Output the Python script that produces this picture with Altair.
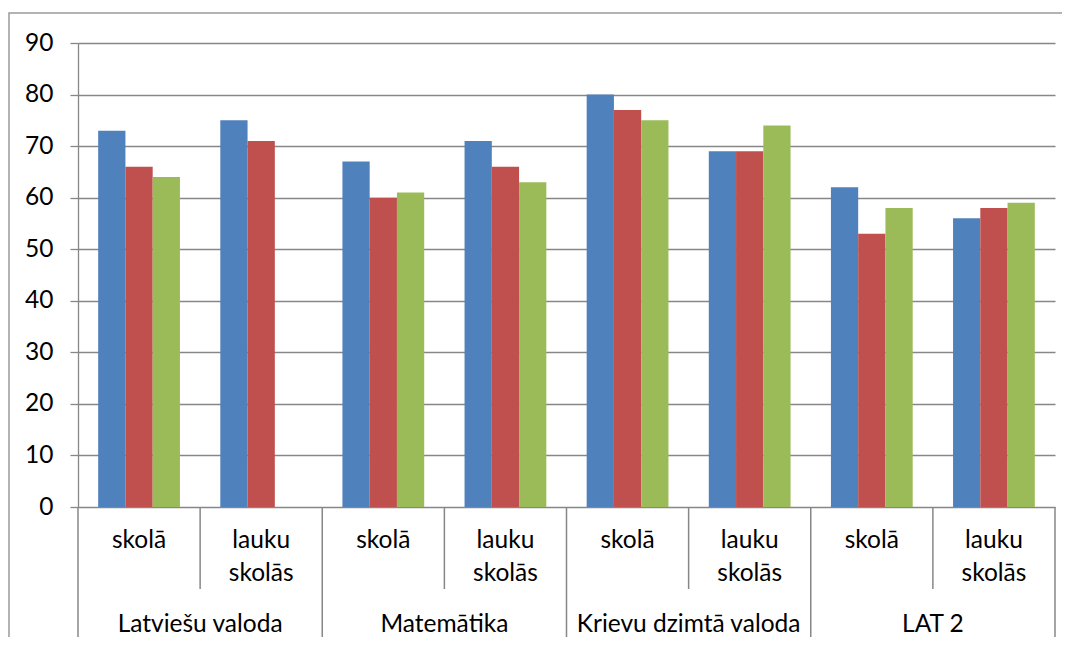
import altair as alt
import pandas as pd

subjects = ["Latviešu valoda", "Matemātika", "Krievu dzimtā valoda", "LAT 2"]
school_types = ["skolā", "lauku skolās"]
type_lines = {"skolā": ["skolā"], "lauku skolās": ["lauku", "skolās"]}
series = ["1. sērija", "2. sērija", "3. sērija"]
colors = ["#4F81BD", "#C0504D", "#9BBB59"]

s1 = [73, 75, 67, 71, 80, 69, 62, 56]
s2 = [66, 71, 60, 66, 77, 69, 53, 58]
s3 = [64, None, 61, 63, 75, 74, 58, 59]
y_ticks = [0, 10, 20, 30, 40, 50, 60, 70, 80, 90]

cats = [f"{s} | {t}" for s in subjects for t in school_types]

rows = []
for name, vals in zip(series, [s1, s2, s3]):
    for c, v in zip(cats, vals):
        if v is not None:
            rows.append({"cat": c, "series": name, "value": v})
bars_df = pd.DataFrame(rows)

lab_rows = []
for s in subjects:
    for t in school_types:
        lab_rows.append({"cat": f"{s} | {t}", "subject": s, "type": t,
                         "lines": type_lines[t], "inner": t != "skolā"})
lab_df = pd.DataFrame(lab_rows)
subj_df = lab_df[lab_df["type"] == "skolā"].copy()
last_df = lab_df.tail(1).copy()

W, H = 977, 464
FONT = "Lato"
FS = 24.5
GRID = "#878787"

xscale = alt.Scale(domain=cats, paddingInner=0, paddingOuter=0)

frame = alt.Chart(pd.DataFrame({"a": [0]})).mark_rect(
    fill="white", fillOpacity=0, stroke="#9a9a9a", strokeWidth=1.5
).encode(x=alt.value(-69), x2=alt.value(W + 40), y=alt.value(-30), y2=alt.value(H + 200))

bars = alt.Chart(bars_df).mark_bar().encode(
    x=alt.X("cat:N", scale=xscale, axis=None),
    xOffset=alt.XOffset("series:N", scale=alt.Scale(domain=series, paddingInner=0, paddingOuter=0.74)),
    y=alt.Y("value:Q", scale=alt.Scale(domain=[0, 90], nice=False),
            axis=alt.Axis(values=y_ticks, title=None, grid=True, gridColor=GRID, gridWidth=1.3,
                          domainColor=GRID, domainWidth=1.3, tickColor=GRID, tickWidth=1.3,
                          tickSize=8, labelPadding=17, labelFont=FONT, labelFontSize=FS,
                          labelColor="black")),
    color=alt.Color("series:N", scale=alt.Scale(domain=series, range=colors), legend=None),
)

inner_rules = alt.Chart(lab_df[lab_df["inner"]]).mark_rule(color=GRID, strokeWidth=1.5).encode(
    x=alt.X("cat:N", scale=xscale, bandPosition=0, axis=None),
    y=alt.value(H), y2=alt.value(546),
)
outer_rules = alt.Chart(subj_df).mark_rule(color=GRID, strokeWidth=1.5).encode(
    x=alt.X("cat:N", scale=xscale, bandPosition=0, axis=None),
    y=alt.value(H), y2=alt.value(597),
)
last_rule = alt.Chart(last_df).mark_rule(color=GRID, strokeWidth=1.5).encode(
    x=alt.X("cat:N", scale=xscale, bandPosition=1, axis=None),
    y=alt.value(H), y2=alt.value(597),
)

type_text = alt.Chart(lab_df).mark_text(
    font=FONT, fontSize=FS, color="black", align="center", baseline="alphabetic", lineHeight=33
).encode(
    x=alt.X("cat:N", scale=xscale, bandPosition=0.5, axis=None),
    y=alt.value(505),
    text="lines",
)
subj_text = alt.Chart(subj_df).mark_text(
    font=FONT, fontSize=FS, color="black", align="center", baseline="alphabetic"
).encode(
    x=alt.X("cat:N", scale=xscale, bandPosition=1, axis=None),
    y=alt.value(589),
    text="subject:N",
)

chart = alt.layer(frame, bars, inner_rules, outer_rules, last_rule, type_text, subj_text).properties(
    width=W, height=H,
    autosize=alt.AutoSizeParams(type="none"),
    padding={"left": 70, "top": 35, "right": 7, "bottom": 130},
    background="white",
).configure_view(stroke=None)

chart.save("out.html", embed_options={"renderer": "svg", "actions": False})
